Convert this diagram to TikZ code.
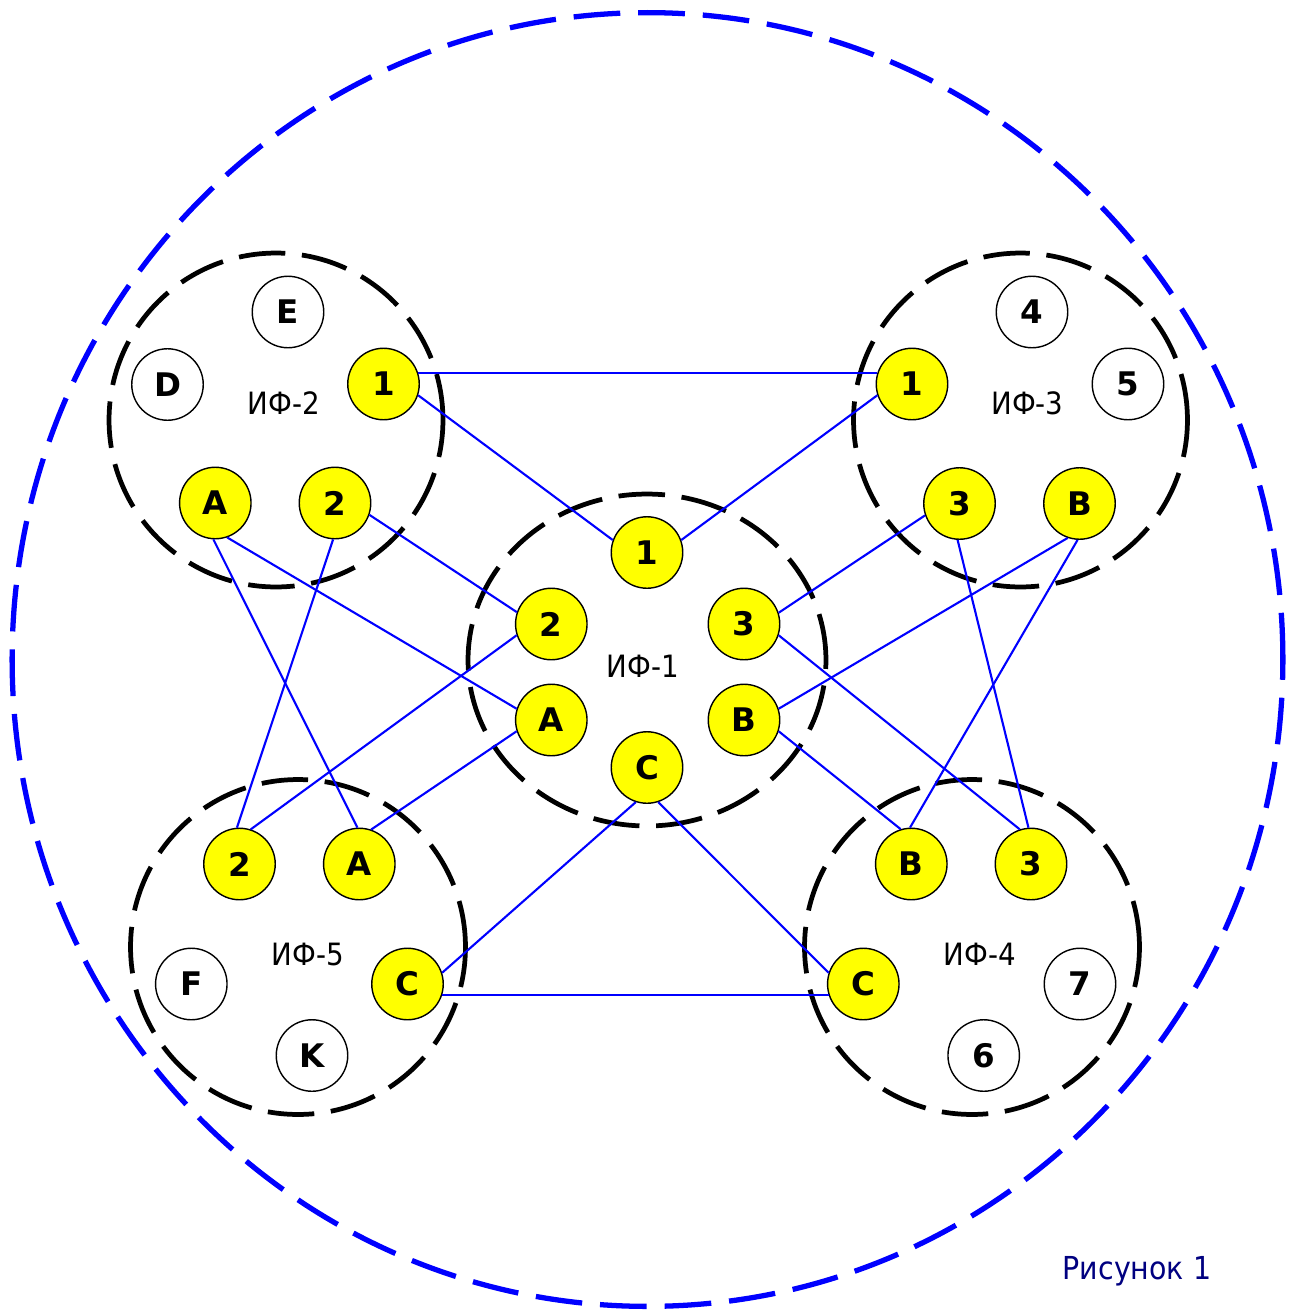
\documentclass[tikz,border=0pt]{standalone}
\usepackage{fontspec}
\setmainfont{DejaVu Sans}
\newfontfamily\lblfont{DejaVu Sans}[FakeStretch=0.9]
\usetikzlibrary{shapes.geometric}
\definecolor{ylw}{RGB}{255,255,0}
\definecolor{navy}{RGB}{0,0,128}
\definecolor{lnblue}{RGB}{0,0,255}
\tikzset{
  port/.style={circle, draw=black, line width=0.8pt, fill=ylw, minimum size=1.43cm, inner sep=0pt,
    font=\fontsize{18.5}{18.5}\selectfont\bfseries},
  idle/.style={port, fill=white},
  grp/.style={draw=black, line width=2.7pt, dash pattern=on 26.5pt off 9.5pt, inner sep=0pt},
  outerring/.style={draw=lnblue, line width=3pt, dash pattern=on 26.6pt off 10.2pt, inner sep=0pt, ellipse},
  grplabel/.style={font=\lblfont\fontsize{17.5}{17.5}\selectfont, inner sep=0pt, anchor=base},
  wire/.style={draw=lnblue, line width=1.2pt},
}
\begin{document}
\begin{tikzpicture}[x=0.02cm,y=-0.02cm]
\useasboundingbox (0,0) rectangle (1290,1313);
% outer ring
\node[outerring, minimum width=25.42cm, minimum height=25.88cm] (ring) at (647.5,659.5) {};
% groups
\node[grp, circle, minimum size=6.68cm] (g2) at (276,420) {};
\node[grp, circle, minimum size=6.68cm] (g3) at (1020.5,420) {};
\node[grp, ellipse, minimum width=7.16cm, minimum height=6.64cm] (g1) at (647,660) {};
\node[grp, circle, minimum size=6.70cm] (g5) at (298,947) {};
\node[grp, circle, minimum size=6.70cm] (g4) at (972,947) {};
% labels
\node[grplabel] (l2) at (284,414) {ИФ-2};
\node[grplabel] (l3) at (1027.5,414) {ИФ-3};
\node[grplabel] (l1) at (643,677) {ИФ-1};
\node[grplabel] (l5) at (308,965) {ИФ-5};
\node[grplabel] (l4) at (980,965) {ИФ-4};
\node[grplabel, text=navy, font=\lblfont\fontsize{18}{18}\selectfont] (cap) at (1137,1279) {Рисунок 1};
% ИФ-2
\node[idle] (bE) at (288,312) {E};
\node[idle] (bD) at (167.5,384.5) {D};
\node[port] (b1) at (383.5,384) {1};
\node[port] (bA) at (215.3,503) {A};
\node[port] (b2) at (335,503) {2};
% ИФ-3
\node[idle] (c4) at (1032,312) {4};
\node[idle] (c5) at (1128,384) {5};
\node[port] (c1) at (912,384) {1};
\node[port] (c3) at (959.5,503.5) {3};
\node[port] (cB) at (1079.5,503.5) {B};
% ИФ-1
\node[port] (a1) at (647,552.5) {1};
\node[port] (a2) at (551.3,624) {2};
\node[port] (a3) at (744,624) {3};
\node[port] (aA) at (551.3,720) {A};
\node[port] (aB) at (744,720) {B};
\node[port] (aC) at (647,767.5) {C};
% ИФ-5
\node[port] (e2) at (239.5,864) {2};
\node[port] (eA) at (359.3,864) {A};
\node[idle] (eF) at (191.3,984) {F};
\node[port] (eC) at (407.5,984) {C};
\node[idle] (eK) at (312,1055.5) {K};
% ИФ-4
\node[port] (dB) at (911.3,864) {B};
\node[port] (d3) at (1031,864) {3};
\node[port] (dC) at (863.3,984) {C};
\node[idle] (d7) at (1080,984) {7};
\node[idle] (d6) at (983.7,1055.5) {6};
% wires
\draw[wire] (b1.18) -- (c1.162);
\draw[wire] (b1.-18) -- (a1.160);
\draw[wire] (c1.-162) -- (a1.20);
\draw[wire] (b2.-19) -- (a2.161);
\draw[wire] (bA.-71) -- (aA.162);
\draw[wire] (bA.-93) -- (eA.93);
\draw[wire] (b2.-93) -- (e2.94);
\draw[wire] (a2.-162) -- (e2.72);
\draw[wire] (aA.-162) -- (eA.71);
\draw[wire] (aC.-108) -- (eC.18);
\draw[wire] (aC.-72) -- (dC.162);
\draw[wire] (eC.-18) -- (dC.-162);
\draw[wire] (c3.-161) -- (a3.18);
\draw[wire] (cB.-109) -- (aB.18);
\draw[wire] (c3.-93) -- (d3.94);
\draw[wire] (cB.-93) -- (dB.92);
\draw[wire] (a3.-18) -- (d3.108);
\draw[wire] (aB.-18) -- (dB.107);
\end{tikzpicture}
\end{document}
